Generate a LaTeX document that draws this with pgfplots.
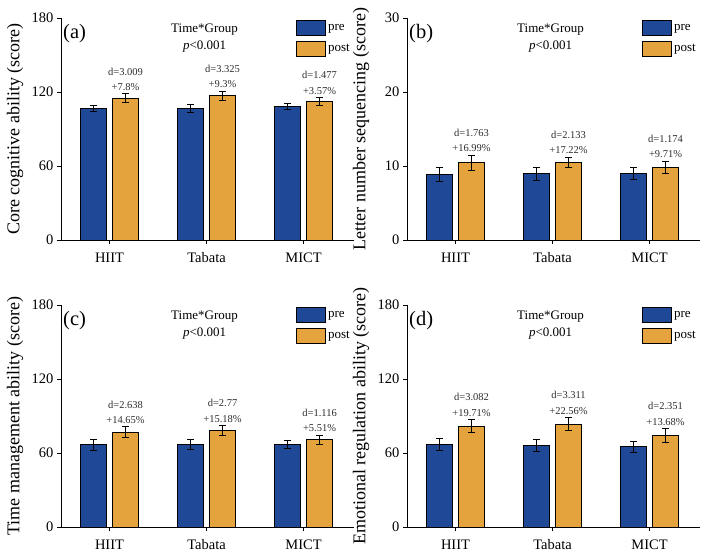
\documentclass[border=0pt]{standalone}
\usepackage{pgfplots}
\pgfplotsset{compat=1.18}
\usepackage{pgfplotstable}
\usepackage{fontspec}
\setmainfont{Liberation Serif}

\definecolor{preblue}{RGB}{31,72,150}
\definecolor{postgold}{RGB}{228,163,60}
\definecolor{anno}{RGB}{45,45,45}

% group  mean  err
\pgfplotstableread{
x  pre   preerr  post  posterr
0  106.7 2.7     115.0 3.4
1  106.7 3.0     117.0 3.8
2  108.3 2.7     112.3 3.0
}\coreTab
\pgfplotstableread{
x  pre   preerr  post  posterr
0  8.90  0.95    10.45 1.00
1  8.95  0.90    10.50 0.70
2  8.95  0.80    9.85  0.80
}\letterTab
\pgfplotstableread{
x  pre   preerr  post  posterr
0  66.6  4.2     76.9  4.3
1  67.1  4.2     78.2  4.0
2  66.9  3.2     70.7  3.7
}\timeTab
\pgfplotstableread{
x  pre   preerr  post  posterr
0  67.1  4.7     81.8  5.4
1  66.3  5.0     83.4  5.5
2  65.0  4.6     74.2  5.5
}\emoTab

\pgfplotsset{
  panel/.style={
    scale only axis, width=293pt, height=222pt,
    axis lines=left, axis line style={line width=0.8pt, -},
    ybar=6pt, bar width=26pt,
    xmin=-0.5, xmax=2.52, ymin=0,
    xtick={0,1,2}, xticklabels={HIIT,Tabata,MICT},
    tick align=outside, major tick length=4pt,
    tick style={line width=0.8pt, black},
    x tick label style={font=\fontsize{14.5}{16}\selectfont, yshift=-5pt},
    y tick label style={font=\fontsize{14.5}{16}\selectfont},
    /pgf/number format/assume math mode=true,
    ylabel style={font=\fontsize{18}{20}\selectfont, at={(axis description cs:-0.128,0.5)}, anchor=south, inner sep=0pt},
    legend style={at={(1,1)}, anchor=north east, draw=none, fill=none,
      font=\fontsize{13}{15}\selectfont, row sep=5pt, inner sep=0pt, xshift=-2pt, yshift=-2pt},
    legend cell align=left,
    legend image code/.code={\draw[##1, line width=0.8pt, draw=black] (0pt,-7.5pt) rectangle (29pt,7.5pt);},
    clip=false,
  },
  prebar/.style={fill=preblue, draw=black, line width=0.8pt,
    error bars/.cd, y dir=both, y explicit,
    error bar style={line width=1pt, black}, error mark options={rotate=90, mark size=3.5pt, line width=1pt, black}},
  postbar/.style={fill=postgold, draw=black, line width=0.8pt,
    error bars/.cd, y dir=both, y explicit,
    error bar style={line width=1pt, black}, error mark options={rotate=90, mark size=3.5pt, line width=1pt, black}},
}

\newcommand{\paneltext}[1]{%
  \node[anchor=north west, font=\fontsize{20.5}{22}\selectfont, inner sep=0pt] at ([xshift=2pt,yshift=-6pt]rel axis cs:0,1) {#1};
  \node[anchor=north, align=center, font=\fontsize{13}{16.5}\selectfont, inner sep=0pt] at ([yshift=-6pt]rel axis cs:0.49,1) {Time*Group\\\textit{p}<0.001};
}
\newcommand{\effect}[3]{% x, y (top of error bar), text
  \node[anchor=south, align=center, text=anno, font=\fontsize{10.5}{15.5}\selectfont, inner sep=0pt]
    at ([xshift=16pt,yshift=3pt]axis cs:#1,#2) {#3};
}

\begin{document}
\begin{tikzpicture}
\useasboundingbox (0,0) rectangle (708pt,559pt);

% (a) core cognitive ability
\begin{axis}[panel, at={(61pt,319pt)}, anchor=south west,
  ymax=180, ytick={0,60,120,180}, ylabel={Core cognitive ability (score)}]
\addplot[prebar] table[x=x, y=pre, y error=preerr] {\coreTab};
\addplot[postbar] table[x=x, y=post, y error=posterr] {\coreTab};
\legend{pre,post}
\paneltext{(a)}
\effect{0}{118.4}{d=3.009\\+7.8\%}
\effect{1}{120.8}{d=3.325\\+9.3\%}
\effect{2}{115.3}{d=1.477\\+3.57\%}
\end{axis}

% (b) letter number sequencing
\begin{axis}[panel, at={(407pt,319pt)}, anchor=south west,
  ymax=30, ytick={0,10,20,30}, ylabel={Letter number sequencing (score)}]
\addplot[prebar] table[x=x, y=pre, y error=preerr] {\letterTab};
\addplot[postbar] table[x=x, y=post, y error=posterr] {\letterTab};
\legend{pre,post}
\paneltext{(b)}
\effect{0}{11.45}{d=1.763\\+16.99\%}
\effect{1}{11.20}{d=2.133\\+17.22\%}
\effect{2}{10.65}{d=1.174\\+9.71\%}
\end{axis}

% (c) time management ability
\begin{axis}[panel, at={(61pt,32pt)}, anchor=south west,
  ymax=180, ytick={0,60,120,180}, ylabel={Time management ability (score)}]
\addplot[prebar] table[x=x, y=pre, y error=preerr] {\timeTab};
\addplot[postbar] table[x=x, y=post, y error=posterr] {\timeTab};
\legend{pre,post}
\paneltext{(c)}
\effect{0}{81.2}{d=2.638\\+14.65\%}
\effect{1}{82.2}{d=2.77\\+15.18\%}
\effect{2}{74.4}{d=1.116\\+5.51\%}
\end{axis}

% (d) emotional regulation ability
\begin{axis}[panel, at={(407pt,32pt)}, anchor=south west,
  ymax=180, ytick={0,60,120,180}, ylabel={Emotional regulation ability (score)}]
\addplot[prebar] table[x=x, y=pre, y error=preerr] {\emoTab};
\addplot[postbar] table[x=x, y=post, y error=posterr] {\emoTab};
\legend{pre,post}
\paneltext{(d)}
\effect{0}{87.2}{d=3.082\\+19.71\%}
\effect{1}{88.9}{d=3.311\\+22.56\%}
\effect{2}{79.7}{d=2.351\\+13.68\%}
\end{axis}
\end{tikzpicture}
\end{document}
